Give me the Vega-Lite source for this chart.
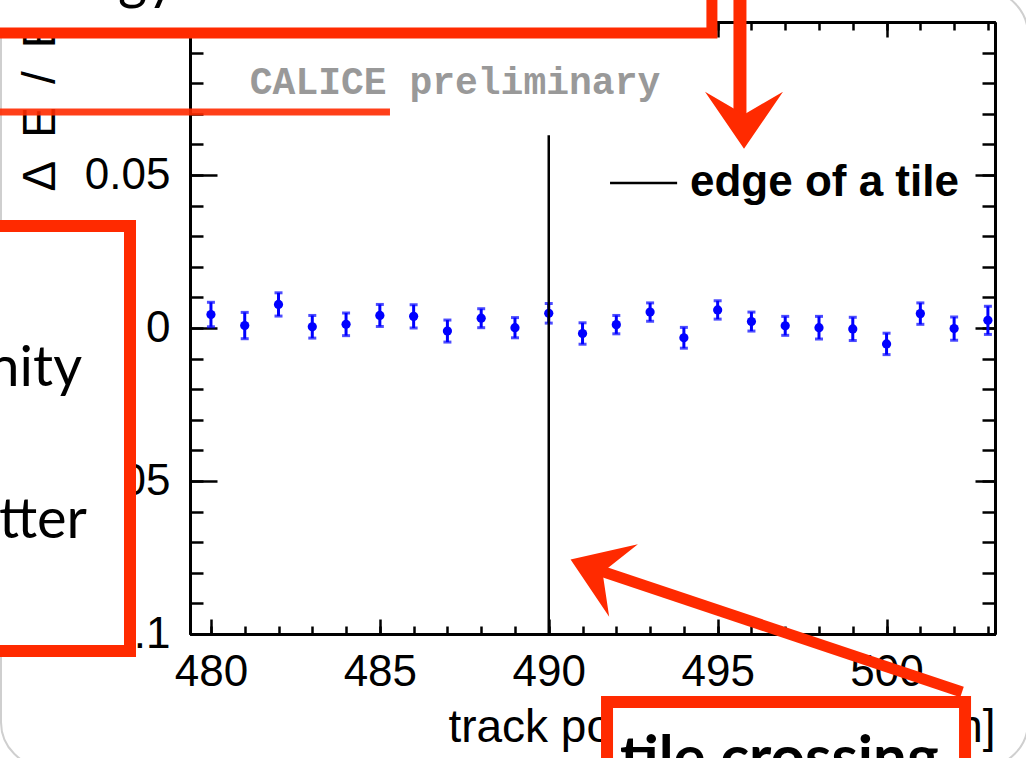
{
  "$schema": "https://vega.github.io/schema/vega-lite/v6.json",
  "width": 805,
  "height": 612,
  "autosize": {"type": "none"},
  "padding": {"left": 190, "top": 22, "right": 31, "bottom": 124},
  "background": "white",
  "data": {"values": [
    {"x":480,"y":0.0044,"lo":0.0004,"hi":0.0084},
    {"x":481,"y":0.0008,"lo":-0.0035,"hi":0.0051},
    {"x":482,"y":0.0077,"lo":0.0039,"hi":0.0115},
    {"x":483,"y":0.0004,"lo":-0.0033,"hi":0.0041},
    {"x":484,"y":0.0012,"lo":-0.0025,"hi":0.0049},
    {"x":485,"y":0.0041,"lo":0.0005,"hi":0.0077},
    {"x":486,"y":0.0038,"lo":0.0000,"hi":0.0076},
    {"x":487,"y":-0.0010,"lo":-0.0046,"hi":0.0026},
    {"x":488,"y":0.0032,"lo":0.0001,"hi":0.0063},
    {"x":489,"y":0.0001,"lo":-0.0032,"hi":0.0034},
    {"x":490,"y":0.0048,"lo":0.0016,"hi":0.0080},
    {"x":491,"y":-0.0018,"lo":-0.0053,"hi":0.0017},
    {"x":492,"y":0.0011,"lo":-0.0019,"hi":0.0041},
    {"x":493,"y":0.0052,"lo":0.0022,"hi":0.0082},
    {"x":494,"y":-0.0032,"lo":-0.0066,"hi":0.0002},
    {"x":495,"y":0.0059,"lo":0.0029,"hi":0.0089},
    {"x":496,"y":0.0021,"lo":-0.0010,"hi":0.0052},
    {"x":497,"y":0.0007,"lo":-0.0024,"hi":0.0038},
    {"x":498,"y":0.0001,"lo":-0.0036,"hi":0.0038},
    {"x":499,"y":-0.0003,"lo":-0.0041,"hi":0.0035},
    {"x":500,"y":-0.0052,"lo":-0.0087,"hi":-0.0017},
    {"x":501,"y":0.0047,"lo":0.0012,"hi":0.0082},
    {"x":502,"y":-0.0002,"lo":-0.0040,"hi":0.0036},
    {"x":503,"y":0.0025,"lo":-0.0021,"hi":0.0071}
  ]},
  "resolve": {"axis": {"x": "independent", "y": "independent"}},
  "config": {
    "view": {"stroke": null},
    "axis": {
      "grid": false, "domainColor": "black", "domainWidth": 3, "tickColor": "black", "tickWidth": 2.5,
      "labelFont": "Liberation Sans", "titleFont": "Liberation Sans", "labelColor": "black", "titleColor": "black",
      "titleFontWeight": "normal", "labelFlush": false, "labelOverlap": false
    }
  },
  "layer": [
    {
      "data": {"values": [{}]},
      "mark": {"type": "rect", "fill": null, "stroke": "#cfcfcf", "strokeWidth": 2, "cornerRadius": 45},
      "encoding": {
        "x": {"datum": 473.785, "type": "quantitative", "scale": {"domain": [479.38, 503.21], "nice": false, "zero": false}, "axis": null},
        "x2": {"datum": 504.187},
        "y": {"datum": 0.11046, "type": "quantitative", "scale": {"domain": [-0.1, 0.1], "nice": false, "zero": false}, "axis": null},
        "y2": {"datum": -0.14346}
      }
    },
    {
      "mark": {"type": "rule", "color": "#0000ff", "strokeWidth": 3},
      "encoding": {
        "x": {"field": "x", "type": "quantitative", "scale": {"domain": [479.38, 503.21], "nice": false, "zero": false},
          "axis": {"orient": "bottom", "values": [480, 485, 490, 495, 500], "tickSize": 0, "labelFontSize": 44, "labelPadding": 16, "format": "d",
            "title": "track position along y [mm]", "titleFontSize": 46, "titleAlign": "right", "titleAnchor": "end", "titleX": 805, "titleY": 107, "titleBaseline": "alphabetic"}},
        "y": {"field": "lo", "type": "quantitative", "scale": {"domain": [-0.1, 0.1], "nice": false, "zero": false},
          "axis": {"orient": "left", "values": [-0.1, -0.05, 0, 0.05], "tickSize": 0, "labelFontSize": 44, "labelPadding": 20, "format": "~g",
            "title": "Δ\u2002E\u2002/\u2002E", "titleFontSize": 46, "titleX": -150, "titleY": -5, "titleAlign": "right", "titleBaseline": "middle", "titleAngle": 270}},
        "y2": {"field": "hi"}
      }
    },
    {
      "mark": {"type": "tick", "orient": "horizontal", "color": "#0000ff", "size": 8, "thickness": 3},
      "encoding": {
        "x": {"field": "x", "type": "quantitative", "scale": {"domain": [479.38, 503.21], "nice": false, "zero": false},
          "axis": {"orient": "bottom", "values": [480, 485, 490, 495, 500], "tickSize": -15, "labels": false, "title": null}},
        "y": {"field": "lo", "type": "quantitative", "scale": {"domain": [-0.1, 0.1], "nice": false, "zero": false},
          "axis": {"orient": "left", "values": [-0.1, -0.05, 0, 0.05, 0.1], "tickSize": -27, "labels": false, "title": null}}
      }
    },
    {
      "mark": {"type": "tick", "orient": "horizontal", "color": "#0000ff", "size": 8, "thickness": 3},
      "encoding": {
        "x": {"field": "x", "type": "quantitative", "scale": {"domain": [479.38, 503.21], "nice": false, "zero": false},
          "axis": {"orient": "bottom", "values": [480,481,482,483,484,485,486,487,488,489,490,491,492,493,494,495,496,497,498,499,500,501,502,503], "tickSize": -8, "labels": false, "title": null}},
        "y": {"field": "hi", "type": "quantitative", "scale": {"domain": [-0.1, 0.1], "nice": false, "zero": false},
          "axis": {"orient": "left", "values": [-0.1,-0.09,-0.08,-0.07,-0.06,-0.05,-0.04,-0.03,-0.02,-0.01,0,0.01,0.02,0.03,0.04,0.05,0.06,0.07,0.08,0.09,0.1], "tickSize": -13, "labels": false, "title": null}}
      }
    },
    {
      "mark": {"type": "point", "filled": true, "shape": "circle", "color": "#0000ff", "size": 85, "opacity": 1},
      "encoding": {
        "x": {"field": "x", "type": "quantitative", "scale": {"domain": [479.38, 503.21], "nice": false, "zero": false},
          "axis": {"orient": "top", "values": [480, 485, 490, 495, 500], "tickSize": -15, "labels": false, "title": null}},
        "y": {"field": "y", "type": "quantitative", "scale": {"domain": [-0.1, 0.1], "nice": false, "zero": false},
          "axis": {"orient": "right", "values": [-0.1, -0.05, 0, 0.05, 0.1], "tickSize": -20, "labels": false, "title": null}}
      }
    },
    {
      "data": {"values": [{}]},
      "mark": {"type": "rule", "color": "black", "strokeWidth": 2.5},
      "encoding": {
        "x": {"datum": 490, "type": "quantitative", "scale": {"domain": [479.38, 503.21], "nice": false, "zero": false},
          "axis": {"orient": "top", "values": [480,481,482,483,484,485,486,487,488,489,490,491,492,493,494,495,496,497,498,499,500,501,502,503], "tickSize": -8, "labels": false, "title": null}},
        "y": {"datum": -0.1, "type": "quantitative", "scale": {"domain": [-0.1, 0.1], "nice": false, "zero": false},
          "axis": {"orient": "right", "values": [-0.1,-0.09,-0.08,-0.07,-0.06,-0.05,-0.04,-0.03,-0.02,-0.01,0,0.01,0.02,0.03,0.04,0.05,0.06,0.07,0.08,0.09,0.1], "tickSize": -13, "labels": false, "title": null}},
        "y2": {"datum": 0.063}
      }
    },
    {
      "data": {"values": [{}]},
      "mark": {"type": "rule", "color": "black", "strokeWidth": 2.5},
      "encoding": {
        "x": {"datum": 491.814, "type": "quantitative", "axis": null},
        "x2": {"datum": 493.80},
        "y": {"datum": 0.04739, "type": "quantitative", "axis": null}
      }
    },
    {
      "data": {"values": [{}]},
      "mark": {"type": "text", "text": "edge of a tile", "font": "Liberation Sans", "fontWeight": "bold", "fontSize": 44, "align": "left", "baseline": "middle", "color": "black"},
      "encoding": {
        "x": {"datum": 494.18, "type": "quantitative", "axis": null},
        "y": {"datum": 0.04739, "type": "quantitative", "axis": null}
      }
    },
    {
      "data": {"values": [{}]},
      "mark": {"type": "text", "text": "CALICE preliminary", "font": "Liberation Mono", "fontWeight": "bold", "fontSize": 38, "align": "center", "baseline": "middle", "color": "#999999"},
      "encoding": {
        "x": {"datum": 487.225, "type": "quantitative", "axis": null},
        "y": {"datum": 0.08007, "type": "quantitative", "axis": null}
      }
    },
    {
      "data": {"values": [{}]},
      "mark": {"type": "rect", "fill": "white", "stroke": "#ff2a00", "strokeWidth": 11},
      "encoding": {
        "x": {"datum": 473.16, "type": "quantitative", "axis": null},
        "x2": {"datum": 494.83},
        "y": {"datum": 0.11373, "type": "quantitative", "axis": null},
        "y2": {"datum": 0.0964}
      }
    },
    {
      "data": {"values": [{}]},
      "mark": {"type": "text", "text": "gy", "font": "Lato", "fontSize": 56, "align": "left", "baseline": "alphabetic", "color": "black"},
      "encoding": {
        "x": {"datum": 477.25, "type": "quantitative", "axis": null},
        "y": {"datum": 0.10784, "type": "quantitative", "axis": null}
      }
    },
    {
      "data": {"values": [{}]},
      "mark": {"type": "rule", "color": "#ff2a00", "strokeWidth": 7, "opacity": 0.9},
      "encoding": {
        "x": {"datum": 473.6, "type": "quantitative", "axis": null},
        "x2": {"datum": 485.3},
        "y": {"datum": 0.07059, "type": "quantitative", "axis": null}
      }
    },
    {
      "data": {"values": [{}]},
      "mark": {"type": "rule", "color": "#ff2a00", "strokeWidth": 13},
      "encoding": {
        "x": {"datum": 495.66, "type": "quantitative", "axis": null},
        "y": {"datum": 0.10882, "type": "quantitative", "axis": null},
        "y2": {"datum": 0.0680}
      }
    },
    {
      "data": {"values": [{}]},
      "mark": {"type": "point", "filled": true, "opacity": 1, "color": "#ff2a00", "shape": "M-1,-0.73 L0,0.73 L1,-0.73 L0,-0.15 Z", "size": 6084},
      "encoding": {
        "x": {"datum": 495.78, "type": "quantitative", "axis": null},
        "y": {"datum": 0.0679, "type": "quantitative", "axis": null}
      }
    },
    {
      "data": {"values": [{}]},
      "mark": {"type": "rect", "fill": "white", "stroke": "#ff2a00", "strokeWidth": 12},
      "encoding": {
        "x": {"datum": 473.16, "type": "quantitative", "axis": null},
        "x2": {"datum": 477.604},
        "y": {"datum": 0.03333, "type": "quantitative", "axis": null},
        "y2": {"datum": -0.10556}
      }
    },
    {
      "data": {"values": [{}]},
      "mark": {"type": "text", "text": "nity", "font": "Lato", "fontSize": 56, "align": "right", "baseline": "alphabetic", "color": "black"},
      "encoding": {
        "x": {"datum": 476.183, "type": "quantitative", "axis": null},
        "y": {"datum": -0.01895, "type": "quantitative", "axis": null}
      }
    },
    {
      "data": {"values": [{}]},
      "mark": {"type": "text", "text": "tter", "font": "Lato", "fontSize": 56, "align": "right", "baseline": "alphabetic", "color": "black"},
      "encoding": {
        "x": {"datum": 476.33, "type": "quantitative", "axis": null},
        "y": {"datum": -0.06863, "type": "quantitative", "axis": null}
      }
    },
    {
      "data": {"values": [{}]},
      "mark": {"type": "rect", "fill": "white", "stroke": "#ff2a00", "strokeWidth": 12},
      "encoding": {
        "x": {"datum": 491.725, "type": "quantitative", "axis": null},
        "x2": {"datum": 502.323},
        "y": {"datum": -0.12222, "type": "quantitative", "axis": null},
        "y2": {"datum": -0.15098}
      }
    },
    {
      "data": {"values": [{}]},
      "mark": {"type": "text", "text": "tile crossing", "font": "Lato", "fontWeight": "bold", "fontSize": 60, "align": "left", "baseline": "alphabetic", "color": "black"},
      "encoding": {
        "x": {"datum": 492.11, "type": "quantitative", "axis": null},
        "y": {"datum": -0.14706, "type": "quantitative", "axis": null}
      }
    },
    {
      "data": {"values": [{}]},
      "mark": {"type": "rule", "color": "#ff2a00", "strokeWidth": 11},
      "encoding": {
        "x": {"datum": 491.3, "type": "quantitative", "axis": null},
        "x2": {"datum": 502.234},
        "y": {"datum": -0.0785, "type": "quantitative", "axis": null},
        "y2": {"datum": -0.11895}
      }
    },
    {
      "data": {"values": [{}]},
      "mark": {"type": "point", "filled": true, "opacity": 1, "color": "#ff2a00", "shape": "M-1,-0.73 L0,0.73 L1,-0.73 L0,-0.15 Z", "size": 6084, "angle": 111.6},
      "encoding": {
        "x": {"datum": 491.43, "type": "quantitative", "axis": null},
        "y": {"datum": -0.07908, "type": "quantitative", "axis": null}
      }
    }
  ]
}
